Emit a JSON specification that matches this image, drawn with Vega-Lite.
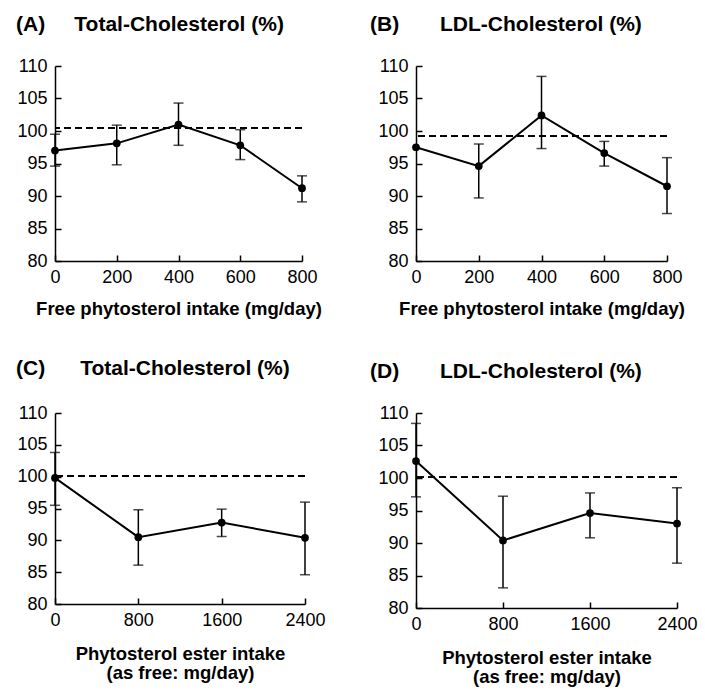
{
  "$schema": "https://vega.github.io/schema/vega-lite/v6.json",
  "background": "white",
  "padding": {"left": 16, "top": 14, "right": 5, "bottom": 5},
  "config": {
    "view": {"stroke": null},
    "font": "Liberation Sans",
    "axis": {
      "grid": false,
      "domainColor": "black",
      "domainWidth": 1.5,
      "tickColor": "black",
      "tickWidth": 1.5,
      "tickSize": -6,
      "labelFont": "Liberation Sans",
      "labelFontSize": 18,
      "labelColor": "black",
      "labelOverlap": false,
      "labelBound": false,
      "titleFont": "Liberation Sans",
      "titleFontSize": 18.5,
      "titleFontWeight": "bold",
      "titleColor": "black"
    },
    "axisX": {"labelPadding": 13, "format": "d", "labelFlush": false},
    "axisY": {"labelPadding": 14},
    "title": {"font": "Liberation Sans", "fontSize": 21, "fontWeight": "bold", "anchor": "start", "frame": "group", "color": "black", "offset": 22}
  },
  "spacing": 40,
  "vconcat": [
    {
      "spacing": 48,
      "hconcat": [
        {
          "width": 247, "height": 195,
          "title": {"text": "(A)\u00a0\u00a0\u00a0\u00a0\u00a0Total-Cholesterol (%)", "dx": -39},
          "data": {"values": [
            {"x": 0, "y": 97.0, "lo": 94.6, "hi": 99.5},
            {"x": 200, "y": 98.1, "lo": 94.8, "hi": 100.9},
            {"x": 400, "y": 101.0, "lo": 97.8, "hi": 104.3},
            {"x": 600, "y": 97.8, "lo": 95.6, "hi": 100.2},
            {"x": 800, "y": 91.2, "lo": 89.1, "hi": 93.1}
          ]},
          "layer": [
            {"mark": {"type": "rule", "strokeDash": [7, 4], "strokeWidth": 1.5, "color": "black"},
             "encoding": {"y": {"datum": 100.5, "type": "quantitative", "scale": {"domain": [80, 110], "nice": false, "zero": false}, "axis": {"values": [80, 85, 90, 95, 100, 105, 110], "title": null}}}},
            {"transform": [{"filter": "datum.lo != null"}], "mark": {"type": "errorbar", "thickness": 1.5, "color": "black", "ticks": {"size": 10, "thickness": 1.5, "color": "black"}},
             "encoding": {"x": {"field": "x", "type": "quantitative", "scale": {"domain": [0, 800], "nice": false, "zero": false}, "axis": {"values": [0, 200, 400, 600, 800], "title": "Free phytosterol intake (mg/day)", "titlePadding": 13}},
                          "y": {"field": "lo", "type": "quantitative", "scale": {"domain": [80, 110], "nice": false, "zero": false}, "axis": {"values": [80, 85, 90, 95, 100, 105, 110], "title": null}}, "y2": {"field": "hi"}}},
            {"mark": {"type": "line", "color": "black", "strokeWidth": 2},
             "encoding": {"x": {"field": "x", "type": "quantitative", "scale": {"domain": [0, 800], "nice": false, "zero": false}, "axis": {"values": [0, 200, 400, 600, 800], "title": "Free phytosterol intake (mg/day)", "titlePadding": 13}},
                          "y": {"field": "y", "type": "quantitative", "scale": {"domain": [80, 110], "nice": false, "zero": false}, "axis": {"values": [80, 85, 90, 95, 100, 105, 110], "title": null}}}},
            {"mark": {"type": "point", "filled": true, "size": 60, "color": "black", "opacity": 1},
             "encoding": {
               "x": {"field": "x", "type": "quantitative", "scale": {"domain": [0, 800], "nice": false, "zero": false}, "axis": {"values": [0, 200, 400, 600, 800], "title": "Free phytosterol intake (mg/day)", "titlePadding": 13}},
               "y": {"field": "y", "type": "quantitative", "scale": {"domain": [80, 110], "nice": false, "zero": false}, "axis": {"values": [80, 85, 90, 95, 100, 105, 110], "title": null}}
             }}
          ]
        },
        {
          "width": 251, "height": 195,
          "title": {"text": "(B)\u00a0\u00a0\u00a0\u00a0\u00a0\u00a0\u00a0LDL-Cholesterol (%)", "dx": -46},
          "data": {"values": [
            {"x": 0, "y": 97.5, "lo": null, "hi": null},
            {"x": 200, "y": 94.6, "lo": 89.7, "hi": 98.0},
            {"x": 400, "y": 102.4, "lo": 97.3, "hi": 108.4},
            {"x": 600, "y": 96.6, "lo": 94.6, "hi": 98.4},
            {"x": 800, "y": 91.5, "lo": 87.3, "hi": 95.9}
          ]},
          "layer": [
            {"mark": {"type": "rule", "strokeDash": [7, 4], "strokeWidth": 1.5, "color": "black"},
             "encoding": {"y": {"datum": 99.2, "type": "quantitative", "scale": {"domain": [80, 110], "nice": false, "zero": false}, "axis": {"values": [80, 85, 90, 95, 100, 105, 110], "title": null}}}},
            {"transform": [{"filter": "datum.lo != null"}], "mark": {"type": "errorbar", "thickness": 1.5, "color": "black", "ticks": {"size": 10, "thickness": 1.5, "color": "black"}},
             "encoding": {"x": {"field": "x", "type": "quantitative", "scale": {"domain": [0, 800], "nice": false, "zero": false}, "axis": {"values": [0, 200, 400, 600, 800], "title": "Free phytosterol intake (mg/day)", "titlePadding": 13}},
                          "y": {"field": "lo", "type": "quantitative", "scale": {"domain": [80, 110], "nice": false, "zero": false}, "axis": {"values": [80, 85, 90, 95, 100, 105, 110], "title": null}}, "y2": {"field": "hi"}}},
            {"mark": {"type": "line", "color": "black", "strokeWidth": 2},
             "encoding": {"x": {"field": "x", "type": "quantitative", "scale": {"domain": [0, 800], "nice": false, "zero": false}, "axis": {"values": [0, 200, 400, 600, 800], "title": "Free phytosterol intake (mg/day)", "titlePadding": 13}},
                          "y": {"field": "y", "type": "quantitative", "scale": {"domain": [80, 110], "nice": false, "zero": false}, "axis": {"values": [80, 85, 90, 95, 100, 105, 110], "title": null}}}},
            {"mark": {"type": "point", "filled": true, "size": 60, "color": "black", "opacity": 1},
             "encoding": {
               "x": {"field": "x", "type": "quantitative", "scale": {"domain": [0, 800], "nice": false, "zero": false}, "axis": {"values": [0, 200, 400, 600, 800], "title": "Free phytosterol intake (mg/day)", "titlePadding": 13}},
               "y": {"field": "y", "type": "quantitative", "scale": {"domain": [80, 110], "nice": false, "zero": false}, "axis": {"values": [80, 85, 90, 95, 100, 105, 110], "title": null}}
             }}
          ]
        }
      ]
    },
    {
      "spacing": 44,
      "hconcat": [
        {
          "width": 250, "height": 191,
          "title": {"text": "(C)\u00a0\u00a0\u00a0\u00a0\u00a0\u00a0Total-Cholesterol (%)", "dx": -39, "offset": 25},
          "data": {"values": [
            {"x": 0, "y": 99.8, "lo": 95.5, "hi": 103.8},
            {"x": 800, "y": 90.5, "lo": 86.1, "hi": 94.8},
            {"x": 1600, "y": 92.8, "lo": 90.6, "hi": 94.9},
            {"x": 2400, "y": 90.4, "lo": 84.6, "hi": 96.0}
          ]},
          "layer": [
            {"mark": {"type": "rule", "strokeDash": [7, 4], "strokeWidth": 1.5, "color": "black"},
             "encoding": {"y": {"datum": 100.1, "type": "quantitative", "scale": {"domain": [80, 110], "nice": false, "zero": false}, "axis": {"values": [80, 85, 90, 95, 100, 105, 110], "title": null}}}},
            {"transform": [{"filter": "datum.lo != null"}], "mark": {"type": "errorbar", "thickness": 1.5, "color": "black", "ticks": {"size": 10, "thickness": 1.5, "color": "black"}},
             "encoding": {"x": {"field": "x", "type": "quantitative", "scale": {"domain": [0, 2400], "nice": false, "zero": false}, "axis": {"values": [0, 800, 1600, 2400], "title": ["Phytosterol ester intake", "(as free: mg/day)"], "titleLineHeight": 19, "titlePadding": 15}},
                          "y": {"field": "lo", "type": "quantitative", "scale": {"domain": [80, 110], "nice": false, "zero": false}, "axis": {"values": [80, 85, 90, 95, 100, 105, 110], "title": null}}, "y2": {"field": "hi"}}},
            {"mark": {"type": "line", "color": "black", "strokeWidth": 2},
             "encoding": {"x": {"field": "x", "type": "quantitative", "scale": {"domain": [0, 2400], "nice": false, "zero": false}, "axis": {"values": [0, 800, 1600, 2400], "title": ["Phytosterol ester intake", "(as free: mg/day)"], "titleLineHeight": 19, "titlePadding": 15}},
                          "y": {"field": "y", "type": "quantitative", "scale": {"domain": [80, 110], "nice": false, "zero": false}, "axis": {"values": [80, 85, 90, 95, 100, 105, 110], "title": null}}}},
            {"mark": {"type": "point", "filled": true, "size": 60, "color": "black", "opacity": 1},
             "encoding": {
               "x": {"field": "x", "type": "quantitative", "scale": {"domain": [0, 2400], "nice": false, "zero": false}, "axis": {"values": [0, 800, 1600, 2400], "title": ["Phytosterol ester intake", "(as free: mg/day)"], "titleLineHeight": 19, "titlePadding": 15}},
               "y": {"field": "y", "type": "quantitative", "scale": {"domain": [80, 110], "nice": false, "zero": false}, "axis": {"values": [80, 85, 90, 95, 100, 105, 110], "title": null}}
             }}
          ]
        },
        {
          "width": 261, "height": 195,
          "title": {"text": "(D)\u00a0\u00a0\u00a0\u00a0\u00a0\u00a0\u00a0LDL-Cholesterol (%)", "dx": -46, "offset": 22},
          "data": {"values": [
            {"x": 0, "y": 102.6, "lo": 97.1, "hi": 108.4},
            {"x": 800, "y": 90.4, "lo": 83.1, "hi": 97.2},
            {"x": 1600, "y": 94.6, "lo": 90.8, "hi": 97.7},
            {"x": 2400, "y": 93.0, "lo": 86.9, "hi": 98.5}
          ]},
          "layer": [
            {"mark": {"type": "rule", "strokeDash": [7, 4], "strokeWidth": 1.5, "color": "black"},
             "encoding": {"y": {"datum": 100.1, "type": "quantitative", "scale": {"domain": [80, 110], "nice": false, "zero": false}, "axis": {"values": [80, 85, 90, 95, 100, 105, 110], "title": null}}}},
            {"transform": [{"filter": "datum.lo != null"}], "mark": {"type": "errorbar", "thickness": 1.5, "color": "black", "ticks": {"size": 10, "thickness": 1.5, "color": "black"}},
             "encoding": {"x": {"field": "x", "type": "quantitative", "scale": {"domain": [0, 2400], "nice": false, "zero": false}, "axis": {"values": [0, 800, 1600, 2400], "title": ["Phytosterol ester intake", "(as free: mg/day)"], "titleLineHeight": 19, "titlePadding": 15}},
                          "y": {"field": "lo", "type": "quantitative", "scale": {"domain": [80, 110], "nice": false, "zero": false}, "axis": {"values": [80, 85, 90, 95, 100, 105, 110], "title": null}}, "y2": {"field": "hi"}}},
            {"mark": {"type": "line", "color": "black", "strokeWidth": 2},
             "encoding": {"x": {"field": "x", "type": "quantitative", "scale": {"domain": [0, 2400], "nice": false, "zero": false}, "axis": {"values": [0, 800, 1600, 2400], "title": ["Phytosterol ester intake", "(as free: mg/day)"], "titleLineHeight": 19, "titlePadding": 15}},
                          "y": {"field": "y", "type": "quantitative", "scale": {"domain": [80, 110], "nice": false, "zero": false}, "axis": {"values": [80, 85, 90, 95, 100, 105, 110], "title": null}}}},
            {"mark": {"type": "point", "filled": true, "size": 60, "color": "black", "opacity": 1},
             "encoding": {
               "x": {"field": "x", "type": "quantitative", "scale": {"domain": [0, 2400], "nice": false, "zero": false}, "axis": {"values": [0, 800, 1600, 2400], "title": ["Phytosterol ester intake", "(as free: mg/day)"], "titleLineHeight": 19, "titlePadding": 15}},
               "y": {"field": "y", "type": "quantitative", "scale": {"domain": [80, 110], "nice": false, "zero": false}, "axis": {"values": [80, 85, 90, 95, 100, 105, 110], "title": null}}
             }}
          ]
        }
      ]
    }
  ]
}
